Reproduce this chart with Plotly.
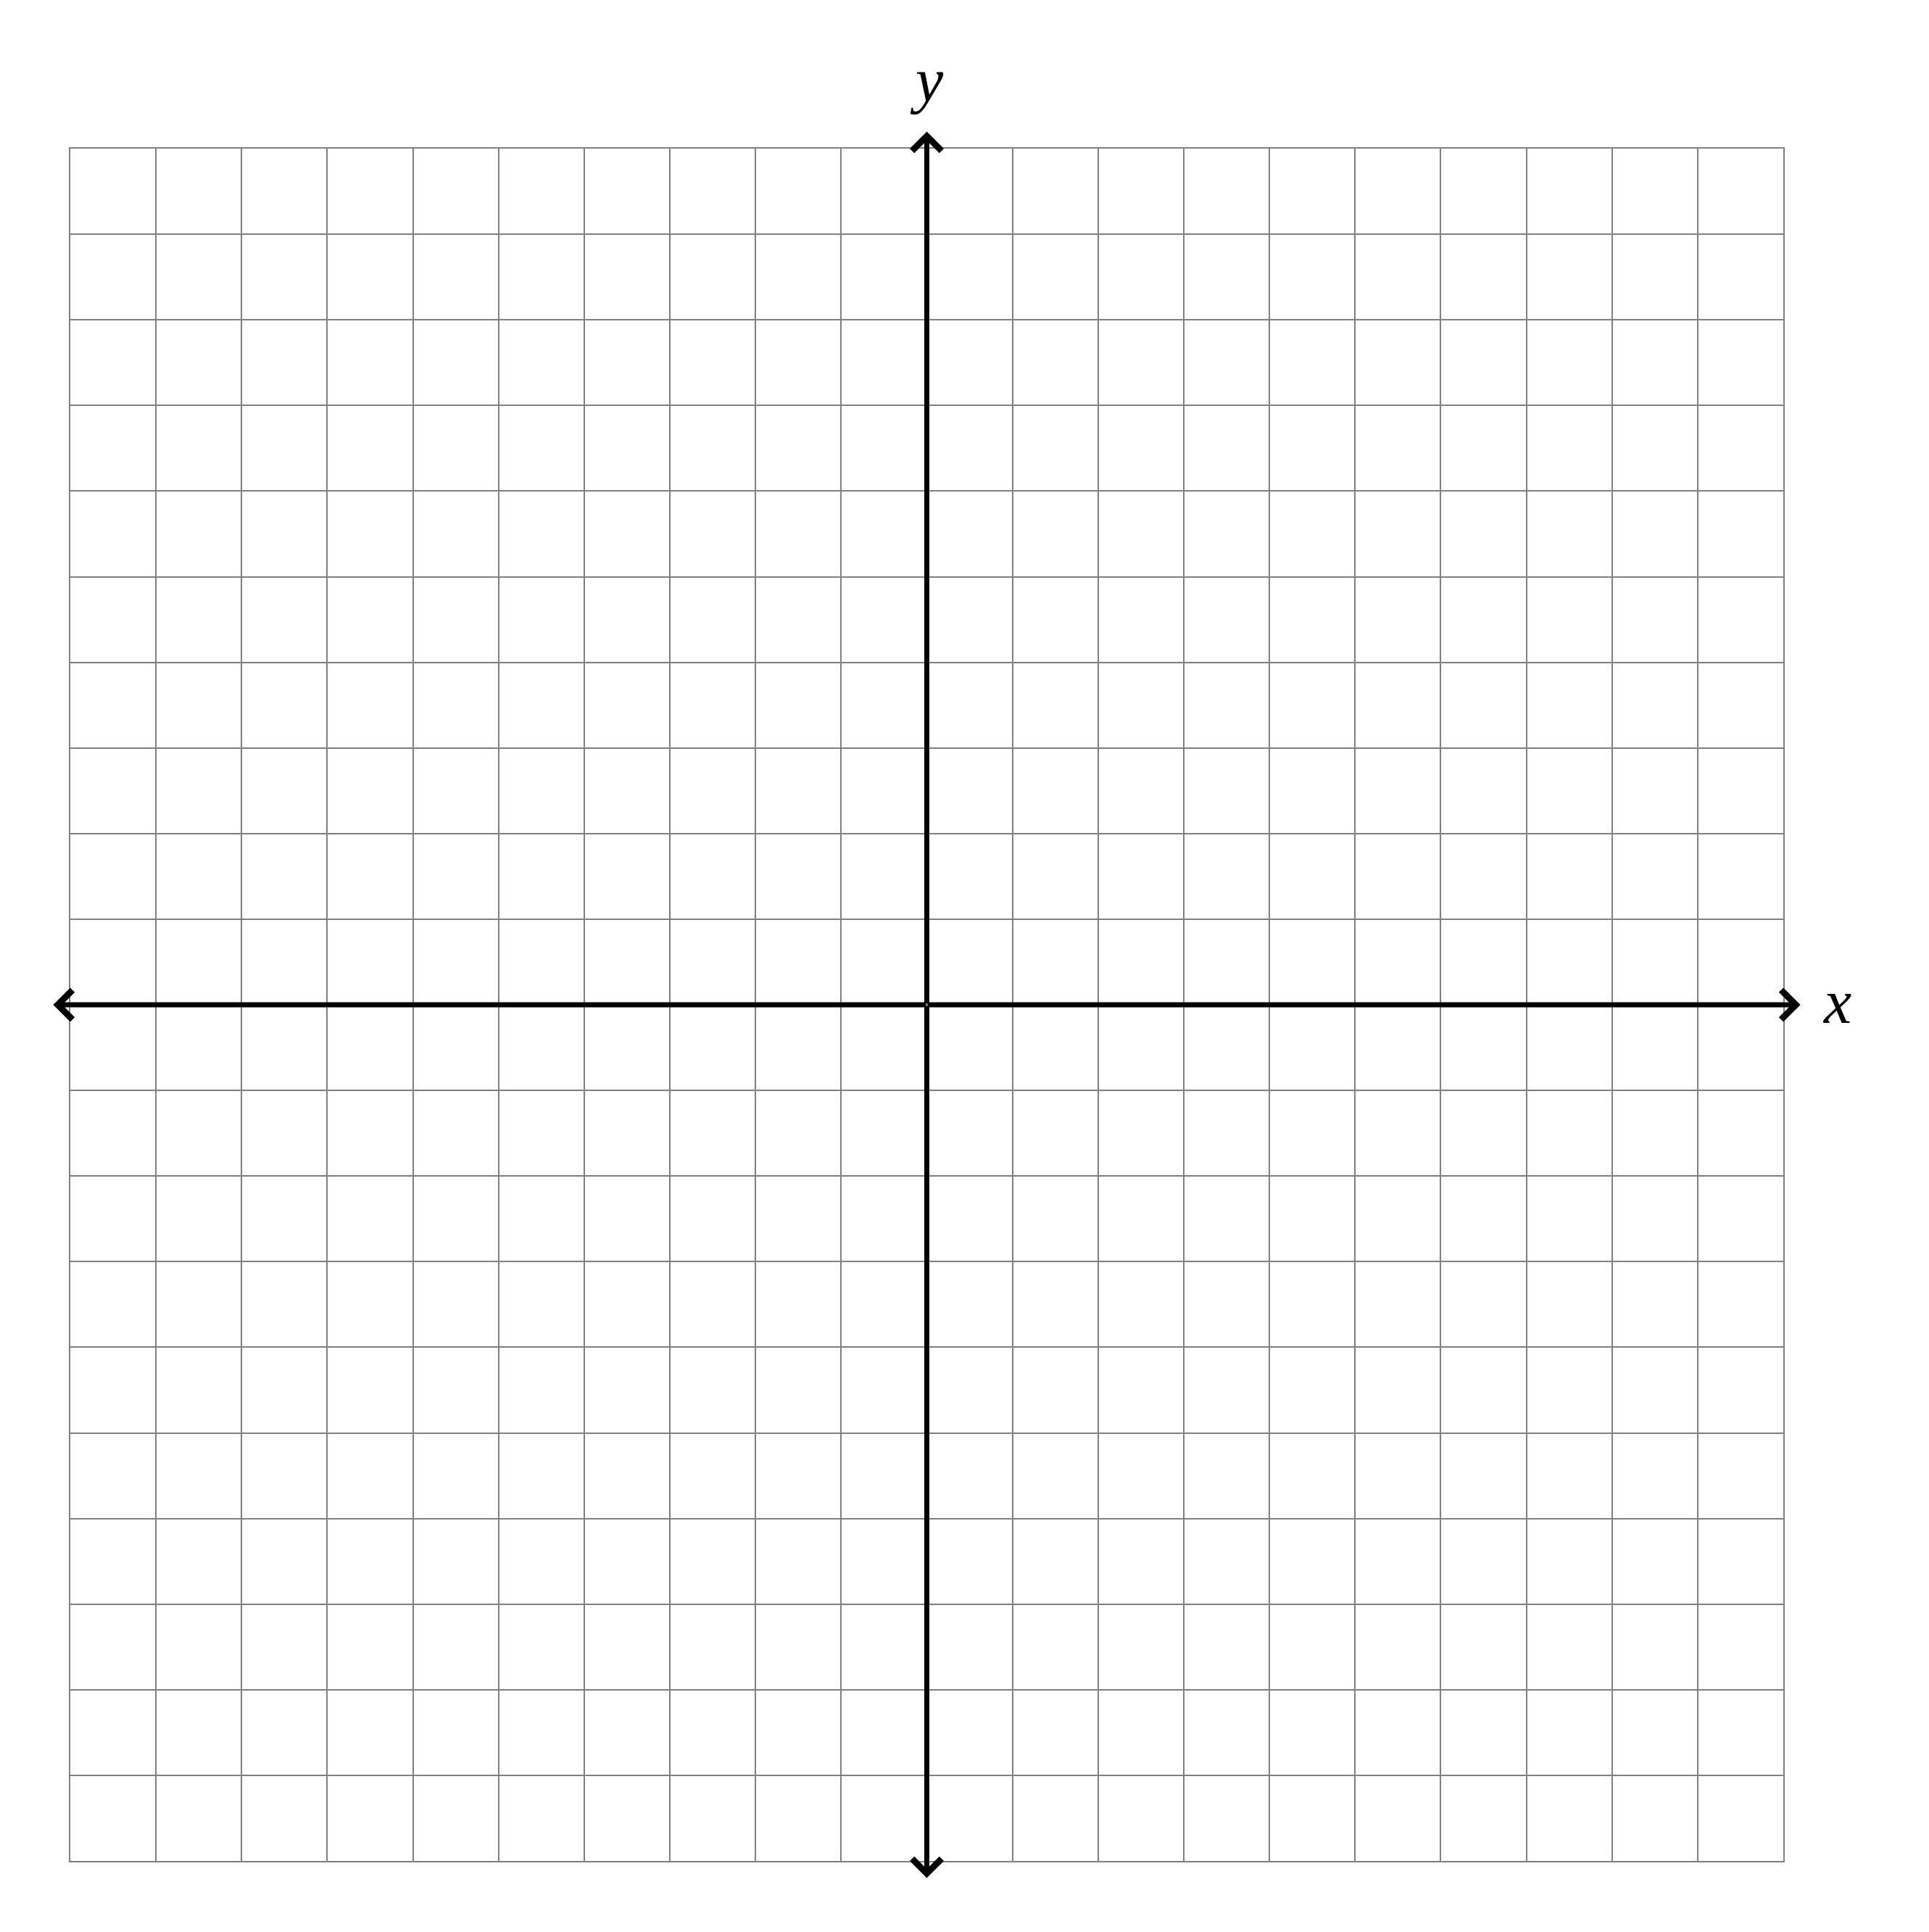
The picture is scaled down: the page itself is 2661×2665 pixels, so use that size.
import plotly.graph_objects as go

# Data
x_ticks = list(range(-10, 11))
y_ticks = list(range(-10, 11))
x_range = [-10, 10]
y_range = [-10, 10]
axis_extent = 10.2  # how far the axis arrows reach beyond the grid (in units)
axis_labels = ["x", "y"]

W, H = 2645, 2649
grid_color = "#808080"

fig = go.Figure()
# invisible trace to establish axes
fig.add_trace(go.Scatter(x=[x_range[0], x_range[1]], y=[y_range[0], y_range[1]],
                         mode="markers", marker=dict(opacity=0), hoverinfo="skip",
                         showlegend=False))

annotations = []
# axis arrows: from origin to both ends
for (hx, hy) in [(axis_extent, 0), (-axis_extent, 0), (0, axis_extent), (0, -axis_extent)]:
    annotations.append(dict(
        x=hx, y=hy, ax=0, ay=0, xref="x", yref="y", axref="x", ayref="y",
        text="", showarrow=True, arrowhead=4, arrowsize=1.12, arrowwidth=7,
        arrowcolor="black", standoff=0, startstandoff=0))

label_font = dict(family="Liberation Serif", size=86, color="black")
annotations.append(dict(
    x=x_range[1], y=0, xref="x", yref="y", text="<i>%s</i>" % axis_labels[0],
    showarrow=False, xanchor="left", yanchor="middle", xshift=52, yshift=4,
    font=label_font))
annotations.append(dict(
    x=0, y=y_range[1], xref="x", yref="y", text="<i>%s</i>" % axis_labels[1],
    showarrow=False, xanchor="center", yanchor="middle", yshift=95,
    font=label_font))

axis_common = dict(
    showgrid=True, gridcolor=grid_color, gridwidth=2,
    zeroline=False, showticklabels=False, ticks="",
    showline=True, linecolor=grid_color, linewidth=2, mirror=True,
    fixedrange=True,
)
fig.update_layout(
    width=W, height=H,
    margin=dict(l=89, r=193, t=197, b=90),
    paper_bgcolor="white", plot_bgcolor="white",
    xaxis=dict(range=x_range, tickvals=x_ticks, **axis_common),
    yaxis=dict(range=y_range, tickvals=y_ticks, **axis_common),
    annotations=annotations,
    showlegend=False,
)
fig.write_html("out.html")
